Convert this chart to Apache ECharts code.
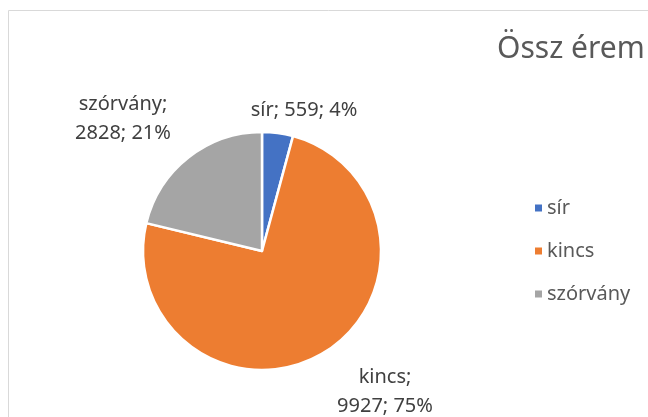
<!DOCTYPE html>
<html>
<head>
<meta charset="utf-8">
<script src="https://cdn.jsdelivr.net/npm/echarts@6/dist/echarts.min.js"></script>
<style>
  html, body { margin: 0; padding: 0; background: #fff; }
  #chart { width: 648px; height: 417px; }
</style>
</head>
<body>
<div id="chart"></div>
<script>
const categories = ['sír', 'kincs', 'szórvány']
const values = [559, 9927, 2828]
const colors = ['#4472C4', '#ED7D31', '#A5A5A5']

// where Excel put each data label (centre of text block)
const labelSpots = [[304, 110], [385, 392], [123, 119]]

const total = values.reduce((a, b) => a + b, 0)
const chart = echarts.init(document.getElementById('chart'))

chart.setOption({
  animation: false,
  textStyle: { fontFamily: 'Noto Sans' },
  title: {
    text: 'Össz érem',
    left: 492,
    top: 29,
    textStyle: { color: '#595959', fontSize: 30, fontWeight: 'normal', fontFamily: 'Noto Sans' },
  },
  legend: {
    orient: 'vertical',
    left: 528,
    top: 193,
    itemWidth: 9,
    itemHeight: 9,
    itemGap: 23,
    icon: 'rect',
    textStyle: { color: '#595959', fontSize: 20, padding: [0, 0, 0, -1] },
    data: categories,
  },
  graphic: [
    {
      type: 'rect',
      shape: { x: 8.5, y: 10.5, width: 800, height: 600 },
      style: { fill: 'none', stroke: '#d9d9d9', lineWidth: 1 },
      z: -1,
    },
  ],
  series: [
    {
      type: 'pie',
      center: [262, 251],
      radius: 119,
      startAngle: 90,
      clockwise: true,
      data: categories.map((c, i) => ({ name: c, value: values[i], itemStyle: { color: colors[i] } })),
      itemStyle: { borderColor: '#fff', borderWidth: 2.5 },
      label: {
        show: true,
        color: '#404040',
        fontSize: 20,
        lineHeight: 29,
        align: 'center',
        formatter: (p) => {
          const pct = Math.round(p.value / total * 100) + '%'
          if (p.dataIndex === 0) return `${p.name}; ${p.value}; ${pct}`
          return `${p.name};\n${p.value}; ${pct}`
        },
      },
      labelLine: { show: false },
      labelLayout: (params) => {
        const s = labelSpots[params.dataIndex]
        return { x: s[0], y: s[1], align: 'center', verticalAlign: 'middle' }
      },
      emphasis: { disabled: true },
    },
  ],
})
</script>
</body>
</html>
